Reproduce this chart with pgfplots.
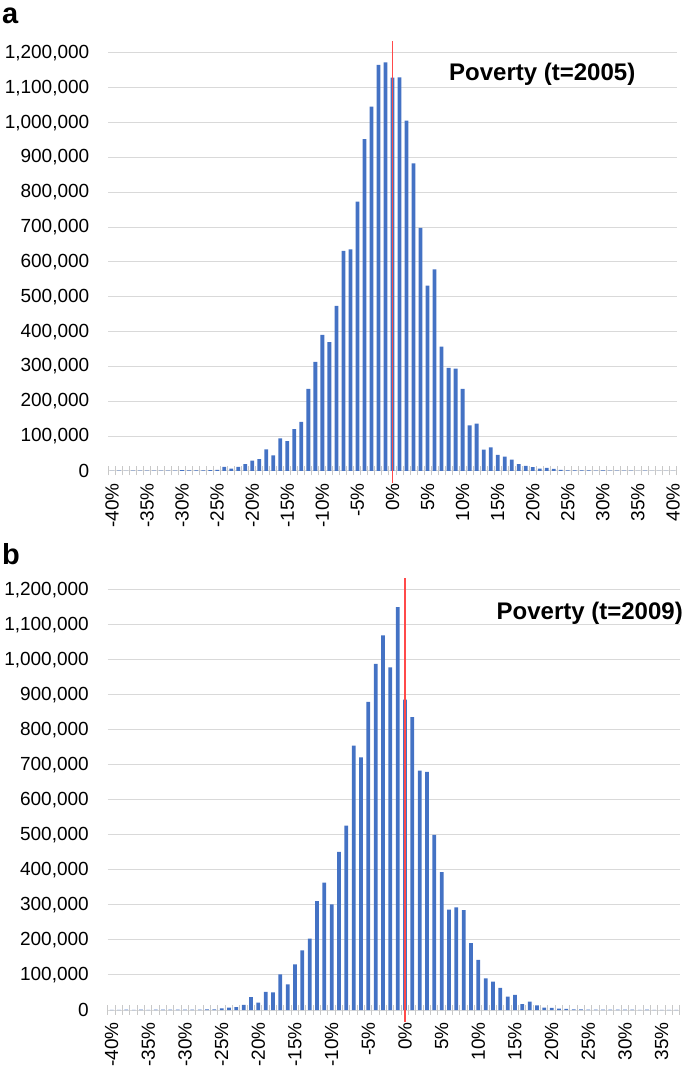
\documentclass[border=0pt]{standalone}
\usepackage{fontspec}
\setmainfont{Liberation Sans}
\usepackage{pgfplots}
\usepackage{pgfplotstable}
\pgfplotsset{compat=1.18}

\definecolor{barblue}{HTML}{4472C4}
\definecolor{gridgray}{HTML}{D9D9D9}
\definecolor{tickgray}{HTML}{C8C8C8}
\definecolor{refred}{rgb}{1,0.29,0.29}

% panel a, t=2005
\pgfplotstableread{
x y
-40 600
-39 800
-38 700
-37 900
-36 800
-35 1000
-34 900
-33 1100
-32 1000
-31 1200
-30 2500
-29 1500
-28 2000
-27 1800
-26 2500
-25 3000
-24 12000
-23 6500
-22 12000
-21 20000
-20 30000
-19 34000
-18 62000
-17 45000
-16 94000
-15 86000
-14 120000
-13 141000
-12 236000
-11 313000
-10 391000
-9 370000
-8 474000
-7 632000
-6 636000
-5 773000
-4 953000
-3 1046000
-2 1166000
-1 1173000
0 1129000
1 1130000
2 1006000
3 883000
4 698000
5 532000
6 579000
7 357000
8 296000
9 294000
10 236000
11 131000
12 136000
13 61000
14 68000
15 46000
16 41000
17 33000
18 20000
19 15000
20 11000
21 7000
22 9000
23 6000
24 3000
25 2000
26 2000
27 1500
28 1800
29 1000
30 1500
31 900
32 1000
33 800
34 900
35 700
36 800
37 600
38 700
39 500
40 600
}\povA

% panel b, t=2009
\pgfplotstableread{
x y
-40 600
-39 700
-38 800
-37 600
-36 900
-35 700
-34 800
-33 1000
-32 900
-31 1100
-30 1000
-29 1200
-28 1300
-27 1500
-26 2000
-25 5000
-24 7000
-23 8000
-22 15000
-21 37000
-20 21000
-19 52000
-18 50000
-17 102000
-16 73000
-15 130000
-14 170000
-13 204000
-12 311000
-11 364000
-10 302000
-9 452000
-8 527000
-7 755000
-6 722000
-5 880000
-4 989000
-3 1070000
-2 979000
-1 1151000
0 887000
1 837000
2 684000
3 680000
4 500000
5 394000
6 287000
7 293000
8 285000
9 191000
10 143000
11 90000
12 81000
13 63000
14 38000
15 43000
16 17000
17 24000
18 13000
19 7000
20 6000
21 4000
22 3000
23 2000
24 1500
25 1200
26 1000
27 1100
28 900
29 1000
30 800
31 900
32 700
33 800
34 600
35 700
36 500
37 600
}\povB

% zero reference line, same for both panels
\pgfplotstableread{
x y
0 -34000
0 1235000
}\zeroline

\pgfplotsset{
  povstyle/.style={
    scale only axis,
    ybar, bar width=3.8pt, bar shift=0pt,
    ymin=0, ymax=1200000,
    ytick={0,100000,...,1200000},
    scaled y ticks=false,
    ymajorgrids,
    grid style={draw=gridgray, line width=1pt},
    axis line style={draw=none},
    major tick length=0pt,
    minor tick length=9pt,
    tick align=center,
    xtick pos=bottom, ytick pos=left,
    major tick style={draw=none},
    minor tick style={draw=tickgray, line width=1pt},
    tick label style={font=\fontsize{19}{21}\selectfont,
        /pgf/number format/assume math mode=true},
    yticklabel style={anchor=east, inner sep=0pt, xshift=-19pt,
        /pgf/number format/fixed, /pgf/number format/1000 sep={,}},
    xticklabel style={rotate=90, anchor=east, inner sep=0pt},
    xticklabel shift=12pt,
    clip=false,
  },
  zerostyle/.style={sharp plot, mark=none, color=refred, line width=1.3pt, forget plot},
}

\begin{document}
\begin{tikzpicture}[x=1pt,y=1pt]
\useasboundingbox (0,0) rectangle (685,1069);
\coordinate (SWa) at (108.5,598);
\coordinate (SWb) at (108,59);

% panel a
\node[anchor=base west, inner sep=0pt, font=\fontsize{29}{32}\selectfont\bfseries] at (2,1045) {a};
\begin{axis}[povstyle,
    at={(SWa)}, anchor=south west,
    width=568pt, height=418pt,
    xmin=-40.5, xmax=40.5,
    xtick={-40,-35,...,40},
    xticklabels={-40\%,-35\%,-30\%,-25\%,-20\%,-15\%,-10\%,-5\%,0\%,5\%,10\%,15\%,20\%,25\%,30\%,35\%,40\%},
    minor xtick={-40.5,-39.5,...,40.5},
]
\addplot[fill=barblue, draw=none] table[x=x, y=y] {\povA};
\addplot[zerostyle] table[x=x, y=y] {\zeroline};
\node[anchor=north east, inner sep=0pt, font=\fontsize{24}{27}\selectfont\bfseries]
    at (rel axis cs:1,1) [xshift=-41pt, yshift=-10pt] {Poverty (t=2005)};
\end{axis}

% panel b
\node[anchor=base west, inner sep=0pt, font=\fontsize{29}{32}\selectfont\bfseries] at (2,504) {b};
\begin{axis}[povstyle,
    at={(SWb)}, anchor=south west,
    width=572pt, height=420pt,
    xmin=-40.5, xmax=37.5,
    xtick={-40,-35,...,35},
    xticklabels={-40\%,-35\%,-30\%,-25\%,-20\%,-15\%,-10\%,-5\%,0\%,5\%,10\%,15\%,20\%,25\%,30\%,35\%},
    minor xtick={-40.5,-39.5,...,37.5},
]
\addplot[fill=barblue, draw=none] table[x=x, y=y] {\povB};
\addplot[zerostyle] table[x=x, y=y] {\zeroline};
\node[anchor=north east, inner sep=0pt, font=\fontsize{24}{27}\selectfont\bfseries]
    at (rel axis cs:1,1) [xshift=3pt, yshift=-12pt] {Poverty (t=2009)};
\end{axis}
\end{tikzpicture}
\end{document}
